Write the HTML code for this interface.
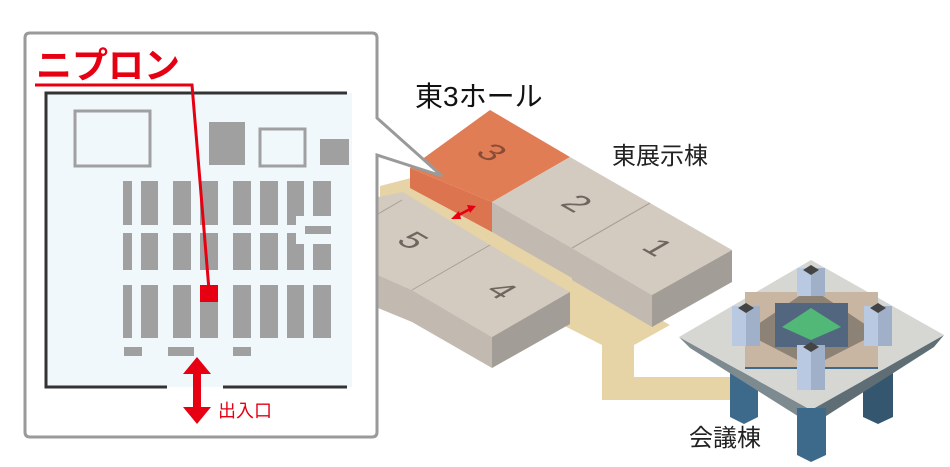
<!DOCTYPE html>
<html><head><meta charset="utf-8"><style>
html,body{margin:0;padding:0;background:#fff;}
svg{display:block}
text{font-family:"Liberation Sans","Noto Sans CJK JP",sans-serif;}
</style></head><body>
<svg width="950" height="467" viewBox="0 0 950 467" xmlns="http://www.w3.org/2000/svg">
<polygon points="380,186,411,178,670,325,634,345,634,377,730,377,730,400,602,400,602,345,380,232" fill="#e6d3a6"/>
<polygon points="378,197,403,192,490,245,412,290,378,275" fill="#d3cbbf"/>
<line x1="378" y1="214" x2="402" y2="200" stroke="#a9a198" stroke-width="1"/>
<polygon points="378,275,412,290,412,322,378,308" fill="#c2bab1"/>
<polygon points="412,290,490,245,570,292,492,337" fill="#d3cbbf"/>
<polygon points="412,290,492,337,492,368,412,322" fill="#c2bab1"/>
<polygon points="492,337,570,292,570,324,492,368" fill="#a39d97"/>
<line x1="412" y1="290" x2="490" y2="245" stroke="#a9a198" stroke-width="1"/>
<polygon points="410,168,490,110,570,157,492,202" fill="#e07d55"/>
<polygon points="410,168,492,202,492,232,410,188" fill="#dc7450"/>
<polygon points="492,202,570,157,650,203,572,248" fill="#d3cbbf"/>
<polygon points="492,202,572,248,572,278,492,232" fill="#c2bab1"/>
<polygon points="572,248,650,203,732,250,652,295" fill="#d3cbbf"/>
<polygon points="572,248,652,295,652,327,572,280" fill="#c2bab1"/>
<polygon points="652,295,732,250,732,282,652,327" fill="#a39d97"/>
<line x1="572" y1="248" x2="650" y2="203" stroke="#a9a198" stroke-width="1.2"/>
<g font-size="36" text-anchor="middle">
<text transform="matrix(0.8,0.46,-0.8,0.46,482,158)" fill="#8a4c36">3</text>
<text transform="matrix(0.8,0.46,-0.8,0.46,567,209)" fill="#6f675f">2</text>
<text transform="matrix(0.8,0.46,-0.8,0.46,648,253)" fill="#6f675f">1</text>
<text transform="matrix(0.8,0.46,-0.8,0.46,403,246)" fill="#6f675f">5</text>
<text transform="matrix(0.8,0.46,-0.8,0.46,492,296)" fill="#6f675f">4</text>
</g>
<g stroke="#e60012" stroke-width="2.5" fill="#e60012">
<line x1="455" y1="217" x2="472" y2="208"/>
<polygon points="451,219,459,211,461,219" stroke="none"/>
<polygon points="476,206,467,205,470,213" stroke="none"/>
</g>
<polygon points="730,370,758,370,758,417,744,424,730,417" fill="#3d6a8a"/>
<polygon points="863,370,893,370,893,417,878,424,863,417" fill="#34566f"/>
<polygon points="679,337,811,410,812,425,690,348" fill="#7d8a90"/>
<polygon points="944,335,811,410,812,425,934,347" fill="#5f6e75"/>
<polygon points="679,337,811,260,944,335,811,410" fill="#d6d6d2"/>
<polygon points="797,408,826,408,826,455,811,462,797,455" fill="#3d6a8a"/>
<rect x="745" y="292" width="133" height="76" fill="#c9b6a2"/>
<polygon points="745,333,811,288,878,333,811,367" fill="#8c8275"/>
<rect x="775" y="303" width="73" height="44" fill="#52677f"/>
<polygon points="782,327,811,308,841,327,811,340" fill="#52b878"/>
<line x1="745" y1="368" x2="878" y2="368" stroke="#3d6a8a" stroke-width="2"/>
<g>
<rect x="797" y="268" width="28" height="28" fill="#b9c9e2"/><rect x="811" y="268" width="14" height="28" fill="#9fb0c8"/><polygon points="803,270,811,265,819,270,811,275" fill="#444"/>
<rect x="732" y="306" width="28" height="40" fill="#b9c9e2"/><rect x="746" y="306" width="14" height="40" fill="#9fb0c8"/><polygon points="738,308,746,303,754,308,746,313" fill="#444"/>
<rect x="864" y="306" width="28" height="40" fill="#b9c9e2"/><rect x="878" y="306" width="14" height="40" fill="#9fb0c8"/><polygon points="870,308,878,303,886,308,878,313" fill="#444"/>
<rect x="797" y="345" width="28" height="45" fill="#b9c9e2"/><rect x="811" y="345" width="14" height="45" fill="#9fb0c8"/><polygon points="803,347,811,342,819,347,811,352" fill="#444"/>
</g>
<text x="415" y="106" font-size="28" fill="#111">東3ホール</text>
<text x="612" y="164" font-size="24" fill="#222">東展示棟</text>
<text x="689" y="446" font-size="24" fill="#222">会議棟</text>
<path d="M30,33 H372 Q377,33 377,38 V118 L442,176 L377,155 V432 Q377,437 372,437 H30 Q25,437 25,432 V38 Q25,33 30,33 Z" fill="#fff" stroke="#9a9a9a" stroke-width="3"/>
<rect x="47" y="93" width="305" height="294" fill="#f1f8fc"/>
<g stroke="#333" stroke-width="3" fill="none">
<polyline points="347,93 46,93 46,387 167,387"/>
<line x1="223" y1="387" x2="347" y2="387"/>
</g>
<g fill="#a0a0a0">
<rect x="209" y="122" width="36" height="43"/>
<rect x="320" y="139" width="29" height="26"/>
<rect x="123" y="181" width="9" height="44"/><rect x="141" y="181" width="17" height="44"/><rect x="173" y="181" width="18" height="44"/><rect x="200" y="181" width="18" height="44"/><rect x="233" y="181" width="18" height="44"/><rect x="260" y="181" width="18" height="44"/><rect x="287" y="181" width="17" height="35"/><rect x="287" y="216" width="9" height="9"/><rect x="313" y="181" width="18" height="35"/>
<rect x="305" y="226" width="26" height="8"/>
<rect x="123" y="233" width="9" height="37"/><rect x="141" y="233" width="17" height="37"/><rect x="173" y="233" width="18" height="37"/><rect x="200" y="233" width="18" height="37"/><rect x="233" y="233" width="18" height="37"/><rect x="260" y="233" width="18" height="37"/><rect x="287" y="233" width="9" height="37"/><rect x="296" y="244" width="8" height="26"/><rect x="313" y="244" width="18" height="26"/>
<rect x="123" y="285" width="9" height="53"/><rect x="141" y="285" width="17" height="53"/><rect x="173" y="285" width="18" height="53"/><rect x="200" y="285" width="18" height="53"/><rect x="233" y="285" width="18" height="53"/><rect x="260" y="285" width="18" height="53"/><rect x="287" y="285" width="17" height="53"/><rect x="313" y="285" width="18" height="53"/>
<rect x="124" y="347" width="18" height="9"/><rect x="168" y="347" width="26" height="9"/><rect x="233" y="347" width="18" height="9"/>
</g>
<g fill="none" stroke="#a0a0a0" stroke-width="3">
<rect x="75" y="111" width="75" height="55"/>
<rect x="260" y="129" width="45" height="37"/>
</g>
<rect x="200" y="285" width="18" height="17" fill="#e60012"/>
<polyline points="35,85 192,85 209,290" fill="none" stroke="#e60012" stroke-width="3"/>
<text x="36" y="78" font-size="36" font-weight="bold" fill="#e60012">ニプロン</text>
<polygon points="197,357 211,374 201,374 201,407 211,407 197,424 183,407 193,407 193,374 183,374" fill="#e60012"/>
<text x="218" y="417" font-size="18" fill="#e60012">出入口</text>
</svg>
</body></html>
